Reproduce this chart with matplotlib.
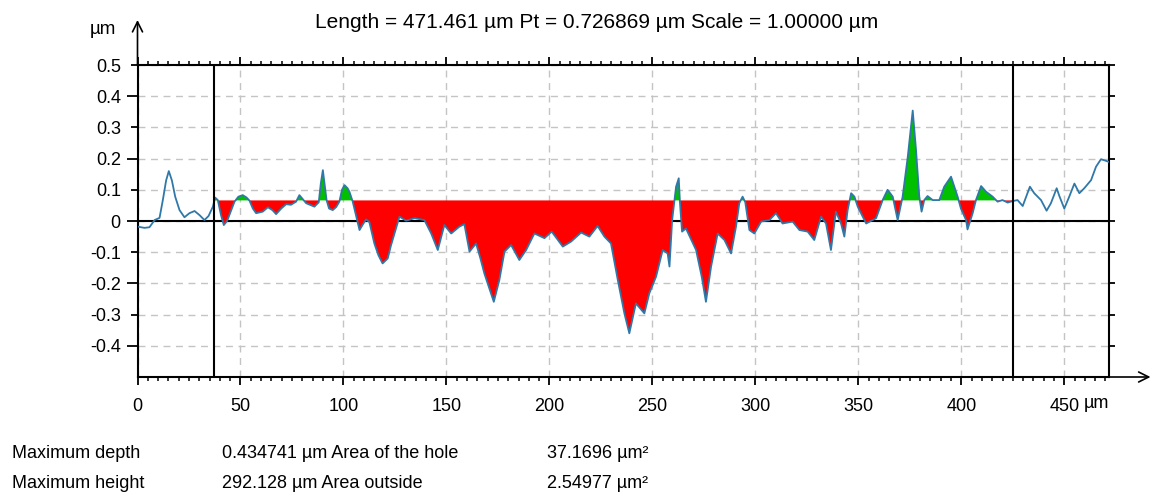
import numpy as np
import matplotlib
matplotlib.use("Agg")
import matplotlib.pyplot as plt
from matplotlib.ticker import MultipleLocator

plt.rcParams['font.family'] = ['Liberation Sans', 'DejaVu Sans']
plt.rcParams['axes.unicode_minus'] = False

# profile (x in um, z in um)
x_um = [0, 3.4, 5.8, 8.3, 10.7, 12.3, 13.9, 15.2, 16.7, 18.3, 20.4, 22.8, 25.2, 27.7,
        30.1, 32.5, 34.5, 36.6, 37.7, 39.0, 40.5, 41.9, 43.5, 45.5, 47.1, 49.0, 51.1,
        53.0, 54.4, 56.0, 57.6, 60.8, 63.3, 65.5, 67.3, 69.8, 72.2, 74.5, 77.0, 78.6,
        81.9, 85.9, 88.0, 89.0, 90.0, 91.0, 91.8, 93.0, 94.8, 96.5, 98.0, 99.3, 100.5,
        102.0, 102.9, 104.5, 106.0, 107.8, 109.5, 111.0, 112.6, 115.0, 117.0, 119.0,
        121.5, 123.0, 124.8, 127.2, 130.4, 134.5, 139.3, 142.6, 145.8, 147.5, 149.0,
        152.3, 156.3, 158.7, 161.2, 164.4, 166.5, 168.4, 171.0, 173.0, 175.7, 178.2,
        181.4, 185.4, 188.7, 192.7, 197.6, 201.1, 206.5, 210.5, 215.4, 219.4, 223.4,
        226.7, 229.9, 233.2, 236.4, 238.8, 242.0, 246.1, 248.5, 251.8, 255.0, 257.4,
        258.3, 259.6, 261.5, 262.8, 263.4, 264.4, 266.3, 271.2, 274.0, 276.0, 278.5,
        281.7, 285.0, 288.2, 290.6, 292.2, 293.8, 295.1, 297.1, 299.5, 302.8, 306.8,
        310.0, 313.2, 318.1, 321.4, 325.4, 328.6, 331.9, 334.3, 336.7, 339.1, 341.6,
        343.2, 344.8, 346.5, 348.1, 349.7, 353.8, 358.6, 361.8, 364.2, 366.7, 369.1,
        371.5, 374.0, 376.4, 378.0, 379.6, 380.7, 382.0, 383.6, 386.1, 389.3, 391.7,
        395.0, 398.2, 399.8, 402.3, 403.0, 405.5, 407.1, 409.6, 412.0, 415.2, 417.6,
        420.0, 422.5, 425.0, 427.3, 429.8, 433.3, 435.4, 438.7, 441.4, 443.5, 446.3,
        447.6, 450.0, 452.4, 454.9, 457.3, 459.7, 463.0, 465.4, 467.8, 470.2, 471.4]
z_um = [-0.018, -0.022, -0.02, 0.003, 0.01, 0.067, 0.13, 0.16, 0.13, 0.078, 0.035, 0.012,
        0.025, 0.032, 0.019, 0.003, 0.016, 0.046, 0.075, 0.067, 0.02, -0.013, 0.0, 0.035,
        0.062, 0.078, 0.083, 0.075, 0.065, 0.04, 0.025, 0.03, 0.044, 0.035, 0.022, 0.04,
        0.054, 0.052, 0.062, 0.083, 0.057, 0.046, 0.06, 0.12, 0.163, 0.11, 0.067, 0.04,
        0.035, 0.045, 0.062, 0.1, 0.115, 0.105, 0.094, 0.062, 0.02, -0.029, -0.01, 0.005,
        -0.004, -0.072, -0.11, -0.136, -0.12, -0.08, -0.04, 0.014, 0.001, 0.009, 0.003,
        -0.04, -0.093, -0.05, -0.013, -0.04, -0.018, -0.01, -0.098, -0.072, -0.12, -0.168,
        -0.22, -0.259, -0.189, -0.098, -0.077, -0.125, -0.093, -0.04, -0.055, -0.034,
        -0.082, -0.066, -0.037, -0.05, -0.016, -0.05, -0.072, -0.189, -0.296, -0.36,
        -0.264, -0.296, -0.232, -0.178, -0.093, -0.104, -0.146, 0.003, 0.11, 0.137, 0.057,
        -0.034, -0.024, -0.093, -0.18, -0.259, -0.146, -0.04, -0.061, -0.104, -0.018,
        0.057, 0.078, 0.06, -0.029, -0.04, -0.002, 0.003, 0.025, -0.008, -0.002, -0.029,
        -0.034, -0.061, 0.014, -0.008, -0.093, 0.03, -0.008, -0.05, 0.035, 0.089, 0.078,
        0.046, -0.008, 0.009, 0.067, 0.1, 0.078, 0.003, 0.078, 0.206, 0.354, 0.228, 0.078,
        0.03, 0.067, 0.08, 0.067, 0.067, 0.11, 0.142, 0.078, 0.04, 0.003, -0.027, 0.025,
        0.067, 0.112, 0.094, 0.078, 0.062, 0.067, 0.059, 0.064, 0.067, 0.048, 0.11, 0.089,
        0.067, 0.033, 0.057, 0.105, 0.08, 0.04, 0.078, 0.12, 0.089, 0.105, 0.131, 0.174,
        0.198, 0.193, 0.19]

length = 471.461
ref_level = 0.066
cursor_left = 37.0
cursor_right = 425.0

x_ticks = [0, 50, 100, 150, 200, 250, 300, 350, 400, 450]
y_ticks = [0.5, 0.4, 0.3, 0.2, 0.1, 0.0, -0.1, -0.2, -0.3, -0.4]

title = "Length = 471.461 µm Pt = 0.726869 µm Scale = 1.00000 µm"
rows = [("Maximum depth", "0.434741 µm Area of the hole", "37.1696 µm²"),
        ("Maximum height", "292.128 µm Area outside", "2.54977 µm²")]

x = np.array(x_um)
z = np.array(z_um)

W, H = 1154, 497
fig = plt.figure(figsize=(W / 100, H / 100), dpi=100)
ax = fig.add_axes([137.5 / W, 1 - 377 / H, (1108.5 - 137.5) / W, (377 - 65) / H])
ax.set_xlim(0, length)
ax.set_ylim(-0.5, 0.5)

inside = (x >= cursor_left) & (x <= cursor_right)
ax.fill_between(x, z, ref_level, where=inside & (z < ref_level), interpolate=True,
                color='#ff0000', lw=0, zorder=2)
ax.fill_between(x, z, ref_level, where=inside & (z > ref_level), interpolate=True,
                color='#00c000', lw=0, zorder=2)
ax.plot(x, z, color='#2f78a8', lw=1.3, zorder=3)

ax.axhline(0, color='black', lw=1.5, zorder=1.5)
ax.axvline(cursor_left, color='black', lw=1.5, zorder=4)
ax.axvline(cursor_right, color='black', lw=1.5, zorder=4)

ax.grid(True, which='major', ls=(0, (5, 4)), color='#c4c4c4', lw=1)
ax.set_axisbelow(True)

for s in ax.spines.values():
    s.set_linewidth(1.5)
    s.set_color('black')

ax.set_xticks(x_ticks)
ax.set_xticklabels([str(v) for v in x_ticks])
ax.xaxis.set_minor_locator(MultipleLocator(5))
ax.tick_params(axis='x', which='major', direction='out', length=6, width=1.3,
               top=True, bottom=True, labelsize=13, pad=9)
ax.tick_params(axis='x', which='minor', direction='out', length=3, width=1.1,
               top=True, bottom=True)

ax.set_yticks(y_ticks)
ax.set_yticklabels(['0' if v == 0 else f'{v:.1f}' for v in y_ticks])
ax.tick_params(axis='y', which='major', direction='out', length=6, width=1.3,
               left=True, right=True, labelsize=13, pad=6)
for i, t in enumerate(ax.yaxis.get_major_ticks()):
    t.tick1line.set_markersize(8 if i % 2 else 5)
    t.tick2line.set_markersize(4)

ax.annotate('µm', xy=(450, -0.5), xycoords='data', xytext=(14, -19),
            textcoords='offset points', fontsize=13, va='center', ha='left')

# axis arrows
ax.annotate('', xy=(0, 1 + 45 / 312), xycoords='axes fraction', xytext=(0, 1),
            arrowprops=dict(arrowstyle='->', lw=1.2, color='black', mutation_scale=18,
                            shrinkA=0, shrinkB=0), annotation_clip=False)
ax.annotate('', xy=(1 + 42 / 971, 0), xycoords='axes fraction', xytext=(1, 0),
            arrowprops=dict(arrowstyle='->', lw=1.2, color='black', mutation_scale=18,
                            shrinkA=0, shrinkB=0), annotation_clip=False)

fig.text(103 / W, 1 - 30 / H, 'µm', ha='center', va='center', fontsize=13.5)
fig.text(597 / W, 1 - 22 / H, title, ha='center', va='center', fontsize=15)

for k, (a, b, c) in enumerate(rows):
    yy = 1 - (453 + 31 * k) / H
    fig.text(12 / W, yy, a, ha='left', va='center', fontsize=13)
    fig.text(222 / W, yy, b, ha='left', va='center', fontsize=13)
    fig.text(547 / W, yy, c, ha='left', va='center', fontsize=13)

fig.savefig('out.png', dpi=100)
